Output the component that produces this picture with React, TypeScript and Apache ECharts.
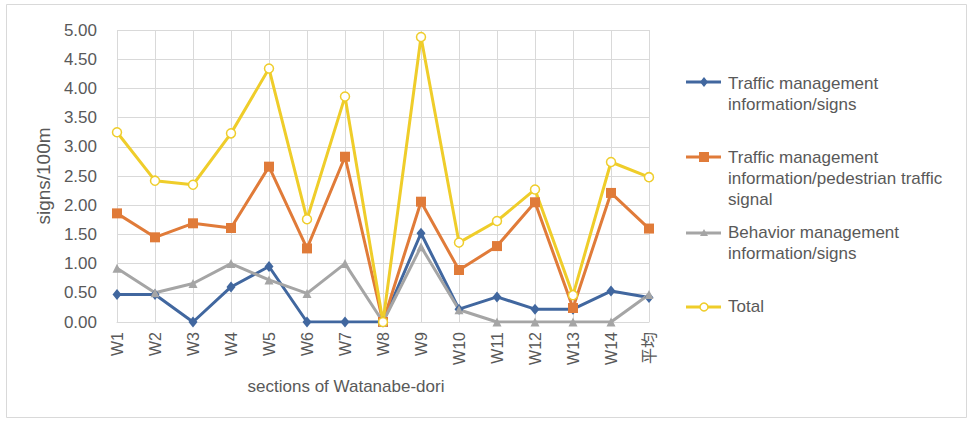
import React, { useEffect, useRef } from "react";
import * as echarts from "echarts";

// Sections along Watanabe-dori, plus the overall average
const categories = ["W1", "W2", "W3", "W4", "W5", "W6", "W7", "W8", "W9", "W10", "W11", "W12", "W13", "W14", "平均"];

// Signs per 100 m for each sign type
const trafficSigns = [0.47, 0.47, 0.0, 0.6, 0.95, 0.0, 0.0, 0.0, 1.52, 0.22, 0.43, 0.22, 0.22, 0.53, 0.42];
const pedestrianSignal = [1.86, 1.45, 1.69, 1.61, 2.66, 1.26, 2.83, 0.0, 2.06, 0.89, 1.3, 2.05, 0.24, 2.21, 1.6];
const behaviorSigns = [0.92, 0.5, 0.66, 1.0, 0.72, 0.49, 1.0, 0.0, 1.29, 0.21, 0.0, 0.0, 0.0, 0.0, 0.47];
const totalSigns = [3.25, 2.42, 2.35, 3.23, 4.34, 1.76, 3.86, 0.0, 4.88, 1.36, 1.73, 2.27, 0.46, 2.74, 2.48];

const seriesNames = [
  "Traffic management information/signs",
  "Traffic management information/pedestrian traffic signal",
  "Behavior management information/signs",
  "Total",
];
const legendLabels = [
  "Traffic management\ninformation/signs",
  "Traffic management\ninformation/pedestrian traffic\nsignal",
  "Behavior management\ninformation/signs",
  "Total",
];

const BLUE = "#41679f";
const ORANGE = "#e07b39";
const GRAY = "#a5a5a5";
const YELLOW = "#efcd2a";
const TEXT = "#595959";
const GRID = "#d9d9d9";
const FONT = "'Liberation Sans', Arial, 'Noto Sans CJK JP', sans-serif";

function legendItem(index: number, iconY: number, textTop: number, color: string) {
  const x0 = 686;
  const x1 = 721;
  const cx = 704;
  let marker: any;
  if (index === 0) {
    marker = {
      type: "polygon",
      shape: { points: [[cx, iconY - 5], [cx + 4, iconY], [cx, iconY + 5], [cx - 4, iconY]] },
      style: { fill: color },
    };
  } else if (index === 1) {
    marker = {
      type: "rect",
      shape: { x: cx - 5, y: iconY - 5, width: 10, height: 10 },
      style: { fill: color },
    };
  } else if (index === 2) {
    marker = {
      type: "polygon",
      shape: { points: [[cx, iconY - 4], [cx + 4, iconY + 3], [cx - 4, iconY + 3]] },
      style: { fill: color },
    };
  } else {
    marker = {
      type: "circle",
      shape: { cx, cy: iconY, r: 4 },
      style: { fill: "#ffffff", stroke: color, lineWidth: 1.5 },
    };
  }
  return {
    type: "group",
    children: [
      {
        type: "line",
        shape: { x1: x0, y1: iconY, x2: x1, y2: iconY },
        style: { stroke: color, lineWidth: 3 },
      },
      marker,
      {
        type: "text",
        style: {
          x: 728,
          y: textTop,
          text: legendLabels[index],
          font: `17px ${FONT}`,
          fill: TEXT,
          lineHeight: 21,
          verticalAlign: "top",
        },
      },
    ],
  };
}

export default function App() {
  const ref = useRef<HTMLDivElement>(null);

  useEffect(() => {
    if (!ref.current) return;
    const chart = echarts.init(ref.current, undefined, { renderer: "svg" });

    const lineSeries = (name: string, data: number[], color: string, symbol: string, symbolSize: any, hollow = false) => ({
      name,
      type: "line",
      data,
      symbol,
      symbolSize,
      showAllSymbol: true,
      lineStyle: { color, width: 3 },
      itemStyle: hollow
        ? { color: "#ffffff", borderColor: color, borderWidth: 1.5 }
        : { color, borderColor: color, borderWidth: 0 },
      emphasis: { disabled: true },
    });

    chart.setOption({
      animation: false,
      backgroundColor: "#ffffff",
      textStyle: { fontFamily: FONT },
      grid: { left: 117, right: 324, top: 30, bottom: 101, containLabel: false },
      xAxis: {
        type: "category",
        data: categories,
        boundaryGap: false,
        name: "sections of Watanabe-dori",
        nameLocation: "middle",
        nameGap: 56,
        nameTextStyle: { color: TEXT, fontSize: 17, padding: [0, 74, 0, 0] },
        axisLine: { show: true, lineStyle: { color: GRID, width: 1 } },
        axisTick: { show: false },
        axisLabel: { rotate: 90, color: TEXT, fontSize: 16, margin: 10, interval: 0 },
        splitLine: { show: true, lineStyle: { color: GRID, width: 1 } },
      },
      yAxis: {
        type: "value",
        min: 0,
        max: 5,
        interval: 0.5,
        name: "signs/100m",
        nameLocation: "middle",
        nameGap: 64,
        nameTextStyle: { color: TEXT, fontSize: 19 },
        axisLine: { show: false },
        axisTick: { show: false },
        axisLabel: { color: TEXT, fontSize: 17, margin: 20, formatter: (v: number) => v.toFixed(2) },
        splitLine: { show: true, lineStyle: { color: GRID, width: 1 } },
      },
      series: [
        lineSeries(seriesNames[0], trafficSigns, BLUE, "diamond", [9, 11]),
        lineSeries(seriesNames[1], pedestrianSignal, ORANGE, "rect", 10),
        lineSeries(seriesNames[2], behaviorSigns, GRAY, "triangle", 9),
        lineSeries(seriesNames[3], totalSigns, YELLOW, "circle", 9, true),
      ],
      graphic: [
        {
          type: "rect",
          shape: { x: 6.5, y: 4.5, width: 960, height: 413 },
          style: { fill: "none", stroke: GRID, lineWidth: 1 },
          silent: true,
        },
        legendItem(0, 82, 73, BLUE),
        legendItem(1, 157, 147, ORANGE),
        legendItem(2, 233, 222, GRAY),
        legendItem(3, 307, 296, YELLOW),
      ],
    });

    return () => chart.dispose();
  }, []);

  return (
    <div
      ref={ref}
      style={{ position: "fixed", left: 0, top: 0, width: 973, height: 423, background: "#ffffff" }}
    />
  );
}
